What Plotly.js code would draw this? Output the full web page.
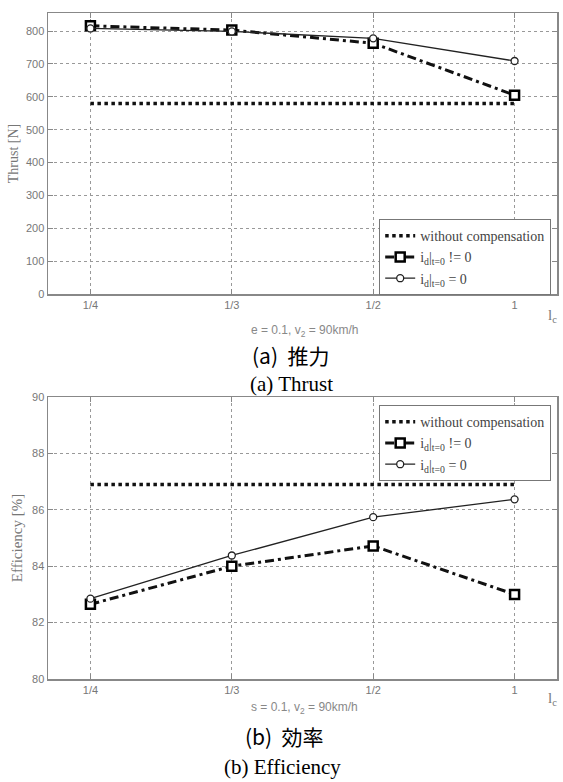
<!DOCTYPE html>
<html>
<head>
<meta charset="utf-8">
<script src="https://cdn.plot.ly/plotly-3.0.1.min.js"></script>
<style>html,body{margin:0;padding:0;background:#fff;}#chart{width:563px;height:782px;}</style>
</head>
<body>
<div id="chart"></div>
<script>
// ---- data ----
const categories = ["1/4", "1/3", "1/2", "1"];
const thrustWithout = [580, 580, 580, 580];
const thrustIdNonZero = [816, 803, 763, 605];
const thrustIdZero = [808, 799, 778, 709];
const effWithout = [86.9, 86.9, 86.9, 86.9];
const effIdNonZero = [82.65, 84.0, 84.72, 83.0];
const effIdZero = [82.85, 84.38, 85.74, 86.37];
const thrustTicks = [0, 100, 200, 300, 400, 500, 600, 700, 800];
const effTicks = [80, 82, 84, 86, 88, 90];

const nameWithout = "without compensation";
const nameNonZero = "i<sub>d</sub>|<sub>t=0</sub> != 0";
const nameZero = "i<sub>d</sub>|<sub>t=0</sub> = 0";

// ---- geometry helpers (pixel -> paper) ----
const L = 48, R = 6, T = 13, B = 103, W = 563, H = 782;
const pw = W - L - R, ph = H - T - B;
const px = x => (x - L) / pw;
const py = y => (H - B - y) / ph;

const serif = "Liberation Serif, Times New Roman, serif";
const sans = "Liberation Sans, Arial, sans-serif";

function series(x, y, name, kind, xa, ya, legend) {
  const t = {x: x, y: y, name: name, type: "scatter", xaxis: xa, yaxis: ya, legend: legend};
  if (kind === "without") {
    t.mode = "lines";
    t.line = {color: "#111", width: 3.5, dash: "dot"};
  } else if (kind === "nonzero") {
    t.mode = "lines+markers";
    t.line = {color: "#111", width: 3, dash: "9px,4px,3px,4px"};
    t.marker = {symbol: "square", size: 9, color: "#fff", line: {color: "#000", width: 2.5}};
  } else {
    t.mode = "lines+markers";
    t.line = {color: "#222", width: 1.3};
    t.marker = {symbol: "circle", size: 7, color: "#fff", line: {color: "#222", width: 1.3}};
  }
  return t;
}

const data = [
  series(categories, thrustWithout, nameWithout, "without", "x", "y", "legend"),
  series(categories, thrustIdNonZero, nameNonZero, "nonzero", "x", "y", "legend"),
  series(categories, thrustIdZero, nameZero, "zero", "x", "y", "legend"),
  series(categories, effWithout, nameWithout, "without", "x2", "y2", "legend2"),
  series(categories, effIdNonZero, nameNonZero, "nonzero", "x2", "y2", "legend2"),
  series(categories, effIdZero, nameZero, "zero", "x2", "y2", "legend2")
];

const axisCommon = {
  showline: true, mirror: "ticks", linecolor: "#888", linewidth: 1.5,
  ticks: "inside", ticklen: 5, tickcolor: "#888",
  showgrid: true, gridcolor: "#999", griddash: "dot", gridwidth: 1,
  zeroline: false,
  tickfont: {family: sans, size: 11, color: "#777"}
};

const xCommon = Object.assign({}, axisCommon, {
  type: "category", range: [-0.3, 3.3], categoryorder: "array", categoryarray: categories
});

const legendCommon = {
  bgcolor: "#fff", bordercolor: "#777", borderwidth: 1.2,
  font: {family: serif, size: 14, color: "#444"},
  xref: "paper", yref: "paper", xanchor: "left", yanchor: "top",
  itemwidth: 30, tracegroupgap: 0, traceorder: "normal"
};

const layout = {
  width: W, height: H,
  margin: {l: L, r: R, t: T, b: B},
  paper_bgcolor: "#fff", plot_bgcolor: "#fff",
  xaxis: Object.assign({}, xCommon, {anchor: "y"}),
  yaxis: Object.assign({}, axisCommon, {
    domain: [py(294), 1], range: [0, 855], tickvals: thrustTicks, anchor: "x",
    title: {text: "Thrust [N]", font: {family: serif, size: 14, color: "#777"}, standoff: 4}
  }),
  xaxis2: Object.assign({}, xCommon, {anchor: "y2"}),
  yaxis2: Object.assign({}, axisCommon, {
    domain: [0, py(397)], range: [80, 90], tickvals: effTicks, anchor: "x2",
    title: {text: "Efficiency [%]", font: {family: serif, size: 15, color: "#777"}, standoff: 6}
  }),
  legend: Object.assign({}, legendCommon, {x: px(379), y: py(219)}),
  legend2: Object.assign({}, legendCommon, {x: px(379), y: py(405)}),
  showlegend: true,
  annotations: [
    {text: "e = 0.1, v<sub>2</sub> = 90km/h", x: px(304), y: py(331), font: {family: sans, size: 12, color: "#888"}},
    {text: "l<sub>c</sub>", x: px(552), y: py(316), font: {family: serif, size: 15, color: "#777"}},
    {text: "(a)  推力", x: px(290), y: py(355), font: {family: "Noto Sans CJK JP, Noto Sans, sans-serif", size: 21, color: "#000"}},
    {text: "(a) Thrust", x: px(291), y: py(384), font: {family: serif, size: 21, color: "#000"}},
    {text: "s = 0.1, v<sub>2</sub> = 90km/h", x: px(304), y: py(708), font: {family: sans, size: 12, color: "#888"}},
    {text: "l<sub>c</sub>", x: px(552), y: py(699), font: {family: serif, size: 15, color: "#777"}},
    {text: "(b)  効率", x: px(284), y: py(736), font: {family: "Noto Sans CJK JP, Noto Sans, sans-serif", size: 21, color: "#000"}},
    {text: "(b) Efficiency", x: px(282), y: py(767), font: {family: serif, size: 21, color: "#000"}}
  ].map(a => Object.assign({xref: "paper", yref: "paper", showarrow: false, xanchor: "center", yanchor: "middle"}, a))
};

Plotly.newPlot("chart", data, layout, {displayModeBar: false, staticPlot: true});
</script>
</body>
</html>
